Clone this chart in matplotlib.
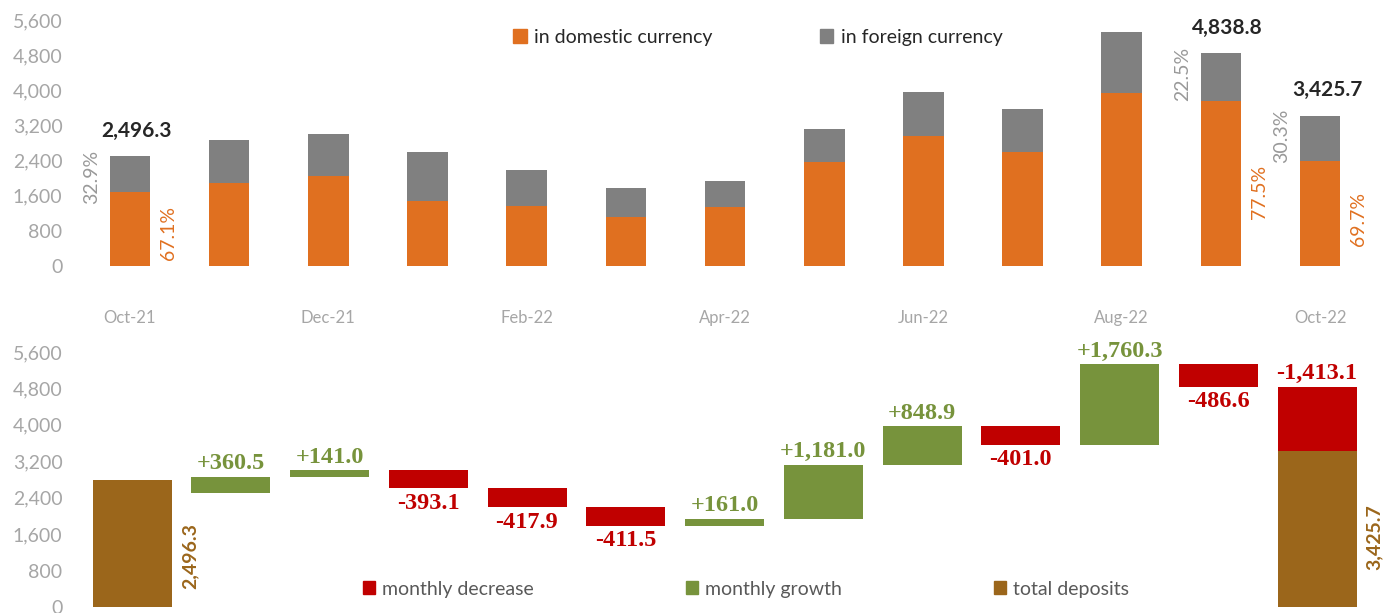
import matplotlib.pyplot as plt
from matplotlib.patches import Patch

# top panel: deposits by currency
months = ['Oct-21', 'Nov-21', 'Dec-21', 'Jan-22', 'Feb-22', 'Mar-22', 'Apr-22',
          'May-22', 'Jun-22', 'Jul-22', 'Aug-22', 'Sep-22', 'Oct-22']
domestic = [1675, 1890, 2049, 1480, 1366, 1115, 1343, 2368, 2959, 2595, 3938, 3750, 2388]
foreign = [821, 967, 949, 1125, 821, 660, 593, 749, 1007, 970, 1388, 1089, 1038]

# only three bars carry labels
label_idx = [0, 11, 12]
total_labels = ['2,496.3', '4,838.8', '3,425.7']
dom_share = ['67.1%', '77.5%', '69.7%']
for_share = ['32.9%', '22.5%', '30.3%']

# bottom panel: waterfall
start_total = 2496.3
start_bar = 2790      # first brown bar is drawn taller than its label in the original
changes = [360.5, 141.0, -393.1, -417.9, -411.5, 161.0, 1181.0, 848.9, -401.0, 1760.3, -486.6, -1413.1]
end_total = 3425.7

c_orange = '#E07020'
c_gray = '#808080'
c_brown = '#9B661B'
c_green = '#77933C'
c_red = '#C00000'
c_tick = '#A6A6A6'

plt.rcParams['font.family'] = ['Lato', 'DejaVu Sans']

W, H = 1385, 613
fig = plt.figure(figsize=(W / 100, H / 100), dpi=100)


def px_axes(left, top, right, bottom):
    return fig.add_axes([left / W, 1 - bottom / H, (right - left) / W, (bottom - top) / H])


yticks = list(range(0, 5601, 800))

# ---------------- top panel ----------------
step1 = 99.17
ax1 = px_axes(75, 20, 1385, 266)
x = list(range(len(months)))
ax1.bar(x, domestic, width=0.41, color=c_orange, label='in domestic currency')
ax1.bar(x, foreign, width=0.41, bottom=domestic, color=c_gray, label='in foreign currency')
ax1.set_xlim(-(130 - 75) / step1, -(130 - 75) / step1 + 1310 / step1)
ax1.set_ylim(0, 5600)
ax1.set_yticks(yticks)
ax1.set_yticklabels([f'{v:,}' for v in yticks])
ax1.set_xticks(x[::2])
ax1.set_xticklabels(months[::2])
ax1.tick_params(axis='y', length=0, labelsize=14, labelcolor=c_tick, pad=9)
ax1.tick_params(axis='x', length=0, labelsize=12, labelcolor=c_tick, pad=32)
for s in ax1.spines.values():
    s.set_visible(False)

for k, i in enumerate(label_idx):
    tot = domestic[i] + foreign[i]
    ax1.annotate(total_labels[k], (i, tot), xytext=(5, 11), textcoords='offset points',
                 ha='center', va='bottom', fontsize=15, fontweight='bold', color='#262626')
    ax1.annotate(for_share[k], (i - 0.205, tot), xytext=(-13, 5), textcoords='offset points',
                 ha='center', va='top', rotation=90, fontsize=14, color='#999999')
    ax1.annotate(dom_share[k], (i + 0.205, domestic[i] * 0.45), xytext=(13, 0),
                 textcoords='offset points', ha='center', va='center', rotation=90,
                 fontsize=14, color=c_orange)

fig.legend(handles=[Patch(color=c_orange), Patch(color=c_gray)],
           labels=['in domestic currency', 'in foreign currency'],
           loc='center left', bbox_to_anchor=(513 / W, 1 - 37 / H), ncol=2, frameon=False,
           fontsize=14, handlelength=0.7, handleheight=0.7, handletextpad=0.4,
           columnspacing=5.5, borderpad=0, borderaxespad=0, labelcolor='#262626')

# ---------------- bottom panel (waterfall) ----------------
step2 = 98.75
ax2 = px_axes(75, 352, 1385, 607)
n = len(changes)
level = start_total
bottoms, heights, colors = [], [], []
for ch in changes:
    new = level + ch
    bottoms.append(min(level, new))
    heights.append(abs(ch))
    colors.append(c_green if ch > 0 else c_red)
    level = new
pos = list(range(1, n + 1))

ax2.bar([0, n], [start_bar, end_total], width=0.8, color=c_brown)
ax2.bar(pos, heights, bottom=bottoms, width=0.8, color=colors)
ax2.set_xlim(-(132 - 75) / step2, -(132 - 75) / step2 + 1310 / step2)
ax2.set_ylim(0, 5600)
ax2.set_yticks(yticks)
ax2.set_yticklabels([f'{v:,}' for v in yticks])
ax2.set_xticks([])
ax2.tick_params(axis='y', length=0, labelsize=14, labelcolor=c_tick, pad=9)
for s in ax2.spines.values():
    s.set_visible(False)

serif = dict(family=['Liberation Serif', 'DejaVu Serif'], fontsize=17.5, fontweight='bold')
for k, ch in enumerate(changes):
    p = pos[k]
    txt = f'{ch:+,.1f}'
    top = bottoms[k] + heights[k]
    if ch > 0:
        ax2.annotate(txt, (p, top), xytext=(0, 2), textcoords='offset points',
                     ha='center', va='bottom', color=c_green, **serif)
    elif k == n - 1:
        ax2.annotate(txt, (p, top), xytext=(0, 2), textcoords='offset points',
                     ha='center', va='bottom', color=c_red, **serif)
    else:
        ax2.annotate(txt, (p, bottoms[k]), xytext=(0, -3), textcoords='offset points',
                     ha='center', va='top', color=c_red, **serif)

for p, val in [(0, start_total), (n, end_total)]:
    ax2.annotate(f'{val:,.1f}', (p + 0.4, val * 0.45), xytext=(13, 0),
                 textcoords='offset points', ha='center', va='center', rotation=90,
                 fontsize=14, fontweight='bold', color=c_brown)

fig.legend(handles=[Patch(color=c_red), Patch(color=c_green), Patch(color=c_brown)],
           labels=['monthly decrease', 'monthly growth', 'total deposits'],
           loc='center left', bbox_to_anchor=(363 / W, 1 - 589 / H), ncol=3, frameon=False,
           fontsize=14, handlelength=0.6, handleheight=0.6, handletextpad=0.4,
           columnspacing=7.8, borderpad=0, borderaxespad=0, labelcolor='#595959')

fig.savefig('out.png', dpi=100)
